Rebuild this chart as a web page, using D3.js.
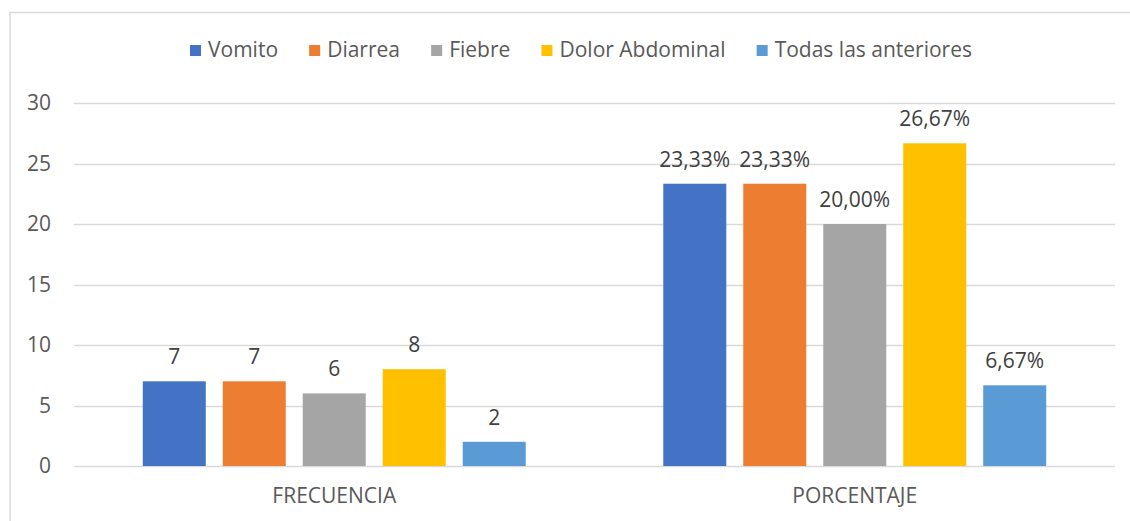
<!DOCTYPE html>
<html><head><meta charset="utf-8">
<script src="https://cdn.jsdelivr.net/npm/d3@7"></script>
<style>body{margin:0;background:#fff}svg{display:block}text{font-family:"Open Sans",sans-serif}</style>
</head><body><svg id="c" width="1130" height="521"></svg>
<script>
const categories = ["FRECUENCIA", "PORCENTAJE"];
const seriesNames = ["Vomito", "Diarrea", "Fiebre", "Dolor Abdominal", "Todas las anteriores"];
const frecuencia = [7, 7, 6, 8, 2];
const porcentaje = [23.33, 23.33, 20.00, 26.67, 6.67];
const frecuenciaLabels = ["7", "7", "6", "8", "2"];
const porcentajeLabels = ["23,33%", "23,33%", "20,00%", "26,67%", "6,67%"];
const yTicks = [0, 5, 10, 15, 20, 25, 30];
const colors = ["#4472C4", "#ED7D31", "#A5A5A5", "#FFC000", "#5B9BD5"];

const FS = "21px";
const svg = d3.select("#c");
// chart border
svg.append("path").attr("d", "M10,521V12.5H1130").attr("fill", "none").attr("stroke", "#d9d9d9").attr("stroke-width", 1.5);

const y = d3.scaleLinear().domain([0, 30]).range([466, 103]);
const x0 = d3.scaleBand().domain(categories).range([74, 1115]);
const x1 = d3.scaleBand().domain(seriesNames).range([0, x0.bandwidth()]).paddingInner(0.2125).paddingOuter(0.86);
const color = d3.scaleOrdinal().domain(seriesNames).range(colors);

// gridlines
svg.append("g").selectAll("line").data(yTicks).join("line")
  .attr("x1", 74).attr("x2", 1115)
  .attr("y1", d => Math.round(y(d)) + 0.5).attr("y2", d => Math.round(y(d)) + 0.5)
  .attr("stroke", "#d9d9d9").attr("stroke-width", 1.3);

// y axis labels
const yAxis = d3.axisLeft(y).tickValues(yTicks).tickSize(0).tickPadding(0).tickFormat(d3.format("d"));
const ga = svg.append("g").attr("transform", "translate(51,0)").call(yAxis);
ga.select(".domain").remove();
ga.selectAll("text").attr("fill", "#595959").style("font-size", FS).style("font-family", "'Open Sans',sans-serif");

const data = [
  {cat: "FRECUENCIA", vals: frecuencia, labels: frecuenciaLabels},
  {cat: "PORCENTAJE", vals: porcentaje, labels: porcentajeLabels}
];

const groups = svg.append("g").selectAll("g").data(data).join("g")
  .attr("transform", d => `translate(${x0(d.cat)},0)`);

groups.selectAll("rect").data(d => d.vals.map((v, i) => ({name: seriesNames[i], v}))).join("rect")
  .attr("x", d => x1(d.name)).attr("width", x1.bandwidth())
  .attr("y", d => y(d.v)).attr("height", d => y(0) - y(d.v))
  .attr("fill", d => color(d.name));

groups.selectAll("text").data(d => d.vals.map((v, i) => ({name: seriesNames[i], v, label: d.labels[i]}))).join("text")
  .attr("x", d => x1(d.name) + x1.bandwidth() / 2)
  .attr("y", d => y(d.v) - 17)
  .attr("text-anchor", "middle").attr("fill", "#404040").style("font-size", FS)
  .text(d => d.label);

// category labels
const xAxis = d3.axisBottom(x0).tickSize(0).tickPadding(0);
const gx = svg.append("g").attr("transform", "translate(0,488)").call(xAxis);
gx.select(".domain").remove();
gx.selectAll("text").attr("fill", "#595959").style("font-size", FS).style("font-family", "'Open Sans',sans-serif");

// legend
const leg = svg.append("g");
const items = leg.selectAll("g").data(seriesNames).join("g");
items.append("rect").attr("width", 11).attr("height", 11).attr("y", 45).attr("fill", d => color(d));
items.append("text").attr("x", 18).attr("y", 50).attr("dy", "0.35em").attr("fill", "#595959").style("font-size", FS).text(d => d);
let widths = [];
items.each(function() { widths.push(18 + d3.select(this).select("text").node().getComputedTextLength()); });
const gap = (972 - 190 - d3.sum(widths)) / (widths.length - 1);
let cx = 190;
items.each(function(d, i) {
  d3.select(this).attr("transform", `translate(${cx},0)`);
  cx += widths[i] + gap;
});
</script></body></html>
